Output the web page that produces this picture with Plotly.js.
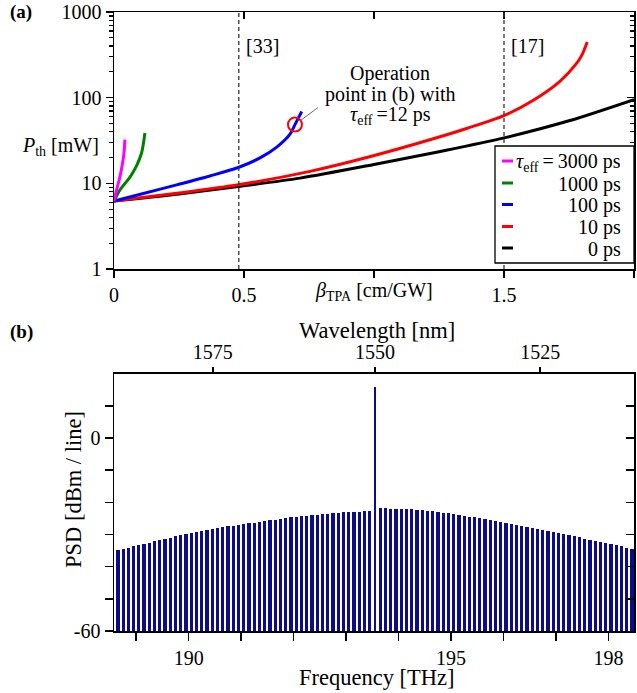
<!DOCTYPE html>
<html><head><meta charset="utf-8">
<script src="https://cdn.plot.ly/plotly-3.0.1.min.js"></script>
<style>html,body{margin:0;padding:0;background:#fff}#chart{width:637px;height:693px}</style>
</head><body><div id="chart"></div>
<script>
// ---------- Panel (a) data: threshold power vs TPA coefficient ----------
const legendNames = ['<i>τ</i><sub>eff</sub>\u2009=\u20093000 ps', '1000 ps', '100 ps', '10 ps', '0 ps'];
const curveColors = ['#ff00ff', '#008000', '#0000ff', '#ff0000', '#000000'];

const beta3000 = [0, 0.010, 0.023, 0.033, 0.0385, 0.042];
const pth3000  = [6.2, 8.4, 12.0, 17.3, 22.6, 32.4];

const beta1000 = [0, 0.023, 0.0615, 0.087, 0.106, 0.119];
const pth1000  = [6.2, 8.4, 11.8, 16.1, 22.6, 38.7];

const beta100 = [0, 0.113, 0.241, 0.369, 0.478, 0.5615, 0.626, 0.677, 0.696, 0.722];
const pth100  = [6.2, 7.6, 9.6, 12.2, 15.3, 19.8, 26.5, 37.5, 48.5, 69.0];

const beta10 = [0, 0.25, 0.478, 0.754, 0.972, 1.228, 1.356, 1.5, 1.613, 1.715, 1.779, 1.80, 1.82];
const pth10  = [6.2, 7.7, 9.6, 13.8, 20.0, 33.1, 43.7, 61.7, 93.3, 155, 251, 316, 447];

const beta0 = [0, 0.25, 0.478, 0.715, 1.0, 1.25, 1.5, 1.75, 2.0];
const pth0  = [6.2, 7.5, 9.2, 11.5, 16.6, 23.4, 33.9, 53.7, 95];

const refBeta   = [0.48, 1.5];
const refLabels = ['[33]', '[17]'];

const opBeta = 0.696, opP = 48.5;
const opText = ['Operation', 'point in (b) with', '<i>τ</i><sub>eff</sub>\u2009=12 ps'];

// ---------- Panel (b) data: comb spectrum ----------
const freqTHz = [188.65,188.75,188.85,188.95,189.05,189.15,189.25,189.35,189.45,189.55,
189.65,189.75,189.85,189.95,190.05,190.15,190.25,190.35,190.45,190.55,
190.65,190.75,190.85,190.95,191.05,191.15,191.25,191.35,191.45,191.55,
191.65,191.75,191.85,191.95,192.05,192.15,192.25,192.35,192.45,192.55,
192.65,192.75,192.85,192.95,193.05,193.15,193.25,193.35,193.45,193.55,
193.65,193.75,193.85,193.95,194.05,194.15,194.25,194.35,194.45,194.55,
194.65,194.75,194.85,194.95,195.05,195.15,195.25,195.35,195.45,195.55,
195.65,195.75,195.85,195.95,196.05,196.15,196.25,196.35,196.45,196.55,
196.65,196.75,196.85,196.95,197.05,197.15,197.25,197.35,197.45,197.55,
197.65,197.75,197.85,197.95,198.05,198.15,198.25,198.35,198.45];
const psdDbm = [-34.8,-34.5,-34.1,-33.7,-33.3,-32.9,-32.5,-32.1,-31.7,-31.3,
-31.0,-30.6,-30.3,-29.9,-29.6,-29.3,-29.0,-28.7,-28.4,-28.1,
-27.8,-27.5,-27.3,-27.0,-26.8,-26.5,-26.3,-26.0,-25.8,-25.6,
-25.4,-25.1,-24.9,-24.7,-24.5,-24.3,-24.1,-24.0,-23.8,-23.6,
-23.5,-23.3,-23.2,-23.1,-23.0,-22.9,-22.9,-22.8,-22.8,16,
-21.9,-21.9,-22.0,-22.0,-22.1,-22.1,-22.2,-22.3,-22.4,-22.6,
-22.8,-23.0,-23.2,-23.4,-23.6,-23.9,-24.1,-24.4,-24.6,-24.9,
-25.2,-25.5,-25.8,-26.1,-26.4,-26.7,-27.0,-27.3,-27.6,-27.9,
-28.2,-28.6,-28.9,-29.2,-29.6,-29.9,-30.2,-30.6,-30.9,-31.3,
-31.6,-32.0,-32.3,-32.7,-33.0,-33.4,-33.7,-34.1,-34.5];
const freqTicks = [189,190,191,192,193,194,195,196,197,198];
const freqTickText = ['','190','','','','','195','','','198'];
const wlTickPos = [190.46, 193.55, 196.70];
const wlTickText = ['1575', '1550', '1525'];
const psdTicks = [-60,-50,-40,-30,-20,-10,0,10];
const psdTickText = ['-60','','','','','','0',''];
const psdFloor = -60;

// ---------- build ----------
const FONT = '"Liberation Serif", "Times New Roman", Times, serif';
const tf = {family: FONT, size: 20, color: '#000'};
const tfBig = {family: FONT, size: 22.5, color: '#000'};
const axBase = {showline: true, linecolor: '#000', linewidth: 1.5, showgrid: false, zeroline: false,
  tickcolor: '#000', tickwidth: 1.5, tickfont: tf};

const series = [
  {b: beta0, p: pth0, i: 4}, {b: beta10, p: pth10, i: 3}, {b: beta100, p: pth100, i: 2},
  {b: beta1000, p: pth1000, i: 1}, {b: beta3000, p: pth3000, i: 0}
];
const traces = series.map(s => ({
  type: 'scatter', mode: 'lines', x: s.b, y: s.p, xaxis: 'x', yaxis: 'y',
  name: legendNames[s.i], showlegend: false,
  line: {color: curveColors[s.i], width: 3, shape: 'spline', smoothing: 0.8}
}));
traces.push({type: 'scatter', mode: 'markers', x: [opBeta], y: [opP], xaxis: 'x', yaxis: 'y',
  showlegend: false, marker: {symbol: 'circle-open', size: 14, color: '#ff0000', line: {width: 2, color: '#ff0000'}}});

const pumpIdx = psdDbm.indexOf(Math.max(...psdDbm));
traces.push({type: 'bar', x: freqTHz, y: psdDbm.map(v => v - psdFloor), base: psdFloor,
  width: freqTHz.map((f, k) => k === pumpIdx ? 0.04 : 0.062),
  xaxis: 'x2', yaxis: 'y2', showlegend: false,
  marker: {color: '#0b0b8c', line: {width: 0}}});

// empty traces so that the mirror (top / right) axes are drawn
[['x3', 'y'], ['x', 'y3'], ['x4', 'y2'], ['x2', 'y4']].forEach(([xa, ya]) =>
  traces.push({type: 'scatter', mode: 'lines', x: [], y: [], xaxis: xa, yaxis: ya, showlegend: false, hoverinfo: 'skip'}));

const minorLog = [];
[1, 10, 100].forEach(d => { for (let m = 2; m <= 9; m++) minorLog.push(m * d); });

const L = 114, T = 12, W = 520, H = 619;
const px2x = p => (p - L) / W;
const py2y = p => (T + H - p) / H;

const shapes = [];
const annotations = [];
refBeta.forEach((b, k) => {
  shapes.push({type: 'line', xref: 'x', yref: 'y domain', x0: b, x1: b, y0: 0, y1: 1,
    line: {color: '#333', width: 1.3, dash: '4px,3px'}});
  annotations.push({xref: 'x', yref: 'paper', x: b, y: py2y(46), xanchor: 'left', yanchor: 'middle',
    xshift: 5, text: refLabels[k], showarrow: false, font: tf});
});
// operation point text and leader
const opY = [73, 94, 115];
opText.forEach((t, k) => annotations.push({xref: 'paper', yref: 'paper', x: px2x(390), y: py2y(opY[k]),
  xanchor: 'center', yanchor: 'middle', text: t, showarrow: false, font: tf}));
annotations.push({xref: 'x', yref: 'y', x: opBeta, y: Math.log10(opP), text: ' ', showarrow: true,
  arrowhead: 0, ax: 27, ay: -20, standoff: 7, arrowwidth: 0.8, arrowcolor: '#444'});

// legend (manual, right-aligned like the original)
shapes.push({type: 'rect', xref: 'paper', yref: 'paper', x0: px2x(495), x1: 1, y0: py2y(263), y1: py2y(146),
  line: {color: '#000', width: 1.3}, fillcolor: '#fff', layer: 'above'});
const rowY = [161, 183, 204.5, 226.5, 248];
legendNames.forEach((n, k) => {
  shapes.push({type: 'line', xref: 'paper', yref: 'paper', x0: px2x(502), x1: px2x(513),
    y0: py2y(rowY[k]), y1: py2y(rowY[k]), line: {color: curveColors[k], width: 3}, layer: 'above'});
  annotations.push({xref: 'paper', yref: 'paper', x: px2x(623), y: py2y(rowY[k] + 1), xanchor: 'right',
    yanchor: 'middle', text: n, showarrow: false, font: tf});
});

// axis titles and panel tags
annotations.push({xref: 'x', yref: 'paper', x: 1.0, y: py2y(291), xanchor: 'center', yanchor: 'middle',
  text: '<i>β</i><sub>TPA</sub> [cm/GW]', showarrow: false, font: tf});
annotations.push({xref: 'paper', yref: 'paper', x: px2x(60), y: py2y(146), xanchor: 'center', yanchor: 'middle',
  text: '<i>P</i><sub>th</sub> [mW]', showarrow: false, font: tf});
annotations.push({xref: 'paper', yref: 'paper', x: px2x(377), y: py2y(677), xanchor: 'center', yanchor: 'middle',
  text: 'Frequency [THz]', showarrow: false, font: tfBig});
annotations.push({xref: 'paper', yref: 'paper', x: px2x(377), y: py2y(330), xanchor: 'center', yanchor: 'middle',
  text: 'Wavelength [nm]', showarrow: false, font: tfBig});
annotations.push({xref: 'paper', yref: 'paper', x: px2x(73), y: py2y(490), xanchor: 'center', yanchor: 'middle',
  text: 'PSD [dBm / line]', textangle: -90, showarrow: false, font: tfBig});
annotations.push({xref: 'paper', yref: 'paper', x: px2x(8), y: py2y(12), xanchor: 'left', yanchor: 'middle',
  text: '<b>(a)</b>', showarrow: false, font: {family: FONT, size: 19, color: '#000'}});
annotations.push({xref: 'paper', yref: 'paper', x: px2x(8), y: py2y(332), xanchor: 'left', yanchor: 'middle',
  text: '<b>(b)</b>', showarrow: false, font: {family: FONT, size: 19, color: '#000'}});

const domA = [py2y(269), 1];
const domB = [0, py2y(373.7)];
const rangeF = [188.576, 198.488];

const layout = {
  width: 637, height: 693, margin: {l: L, r: 3, t: T, b: 62}, paper_bgcolor: '#fff', plot_bgcolor: 'rgba(0,0,0,0)',
  showlegend: false, font: {family: FONT, size: 20, color: '#000'}, bargap: 0,
  xaxis: Object.assign({}, axBase, {domain: [0, 1], anchor: 'y', range: [0, 2], tickmode: 'array',
    tickvals: [0, 0.5, 1, 1.5, 2], ticktext: ['0', '0.5', '', '1.5', '2'], ticks: 'outside', ticklen: 7}),
  yaxis: Object.assign({}, axBase, {domain: domA, anchor: 'x', type: 'log', range: [0, 3], tickmode: 'array',
    tickvals: [1, 10, 100, 1000], ticktext: ['1', '10', '100', '1000'], ticks: 'outside', ticklen: 7,
    minor: {tickmode: 'array', tickvals: minorLog, ticks: 'outside', ticklen: 4, tickcolor: '#000', tickwidth: 1.2}}),
  xaxis3: Object.assign({}, axBase, {overlaying: 'x', anchor: 'y', side: 'top', range: [0, 2], tickmode: 'array',
    tickvals: [0, 0.5, 1, 1.5, 2], showticklabels: false, ticks: 'inside', ticklen: 7}),
  yaxis3: Object.assign({}, axBase, {overlaying: 'y', anchor: 'x', side: 'right', type: 'log', range: [0, 3],
    tickmode: 'array', tickvals: [1, 10, 100, 1000], showticklabels: false, ticks: 'inside', ticklen: 7,
    minor: {tickmode: 'array', tickvals: minorLog, ticks: 'inside', ticklen: 4, tickcolor: '#000', tickwidth: 1.2}}),
  xaxis2: Object.assign({}, axBase, {domain: [0, 1], anchor: 'y2', range: rangeF, tickmode: 'array',
    tickvals: freqTicks, ticktext: freqTickText, ticks: 'outside', ticklen: 8}),
  yaxis2: Object.assign({}, axBase, {domain: domB, anchor: 'x2', range: [-60, 20], tickmode: 'array',
    tickvals: psdTicks, ticktext: psdTickText, ticks: 'outside', ticklen: 8}),
  xaxis4: Object.assign({}, axBase, {overlaying: 'x2', anchor: 'y2', side: 'top', range: rangeF, tickmode: 'array',
    tickvals: wlTickPos, ticktext: wlTickText, ticks: 'outside', ticklen: 5}),
  yaxis4: Object.assign({}, axBase, {overlaying: 'y2', anchor: 'x2', side: 'right', range: [-60, 20], tickmode: 'array',
    tickvals: psdTicks, showticklabels: false, ticks: 'inside', ticklen: 8}),
  shapes: shapes, annotations: annotations
};

Plotly.newPlot('chart', traces, layout, {staticPlot: true, displayModeBar: false});
</script></body></html>
